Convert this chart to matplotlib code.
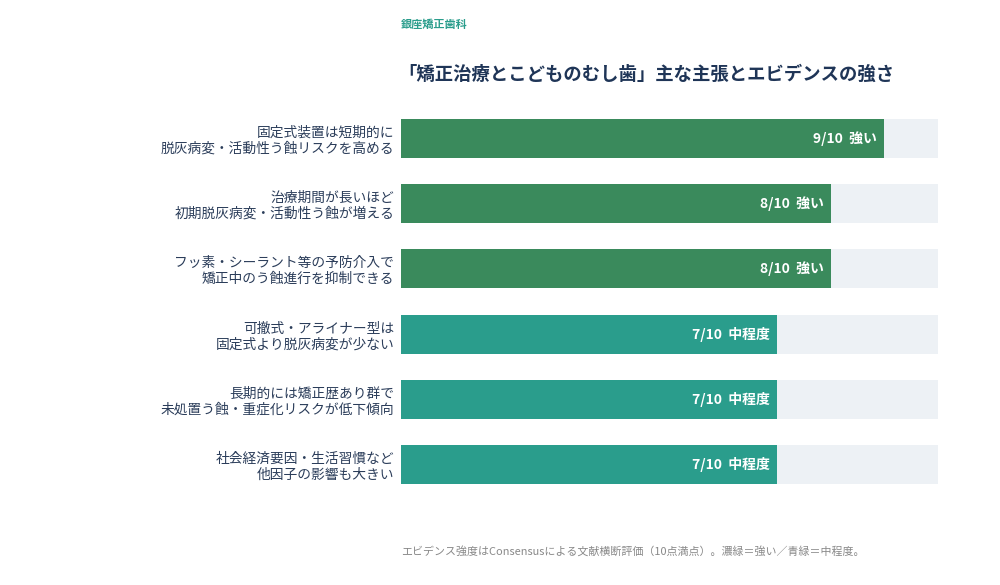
import matplotlib.pyplot as plt
import matplotlib.transforms as mtransforms

plt.rcParams['font.family'] = ['Noto Sans CJK JP', 'DejaVu Sans']

# Data
claims = [
    '固定式装置は短期的に\n脱灰病変・活動性う蝕リスクを高める',
    '治療期間が長いほど\n初期脱灰病変・活動性う蝕が増える',
    'フッ素・シーラント等の予防介入で\n矯正中のう蝕進行を抑制できる',
    '可撤式・アライナー型は\n固定式より脱灰病変が少ない',
    '長期的には矯正歴あり群で\n未処置う蝕・重症化リスクが低下傾向',
    '社会経済要因・生活習慣など\n他因子の影響も大きい',
]
scores = [9, 8, 8, 7, 7, 7]
levels = ['強い', '強い', '強い', '中程度', '中程度', '中程度']
max_score = 10

colors = {'強い': '#3a8a5c', '中程度': '#2a9d8c'}
track_color = '#edf1f5'
text_color = '#2b3d5a'

fig = plt.figure(figsize=(10, 5.85), dpi=100)
ax = fig.add_axes([0.401, 1 - 484 / 585, 0.537, 365 / 585])

y = list(range(len(claims)))
ax.barh(y, [max_score] * len(y), height=0.6, color=track_color, edgecolor='none')
ax.barh(y, scores, height=0.6, color=[colors[l] for l in levels], edgecolor='none')

offset = mtransforms.offset_copy(ax.transData, fig=fig, x=-7 / 100 * 72, y=0, units='points')
for yi, s, l in zip(y, scores, levels):
    ax.text(s, yi, f'{s}/{max_score}  {l}', transform=offset, ha='right', va='center',
            color='white', fontsize=10, fontweight='bold')

ax.set_xlim(0, max_score)
ax.set_ylim(5.3, -0.3)
ax.set_yticks(y)
ax.set_yticklabels(claims, fontsize=9.9, color=text_color, linespacing=1.15)
ax.tick_params(axis='y', length=0, pad=5)
ax.set_xticks([])
for sp in ax.spines.values():
    sp.set_visible(False)

fig.text(0.401, 1 - 24 / 585, '銀座矯正歯科', fontsize=8, fontweight='bold',
         color='#2a9d8c', ha='left', va='center')
fig.text(0.398, 1 - 74 / 585, '「矯正治療とこどものむし歯」主な主張とエビデンスの強さ', fontsize=13.2,
         fontweight='bold', color='#1f3557', ha='left', va='center')
fig.text(0.401, 1 - 551 / 585,
         'エビデンス強度はConsensusによる文献横断評価（10点満点）。濃緑＝強い／青緑＝中程度。',
         fontsize=7.9, color='#888888', ha='left', va='center')

fig.savefig('out.png', dpi=100, facecolor='white')
